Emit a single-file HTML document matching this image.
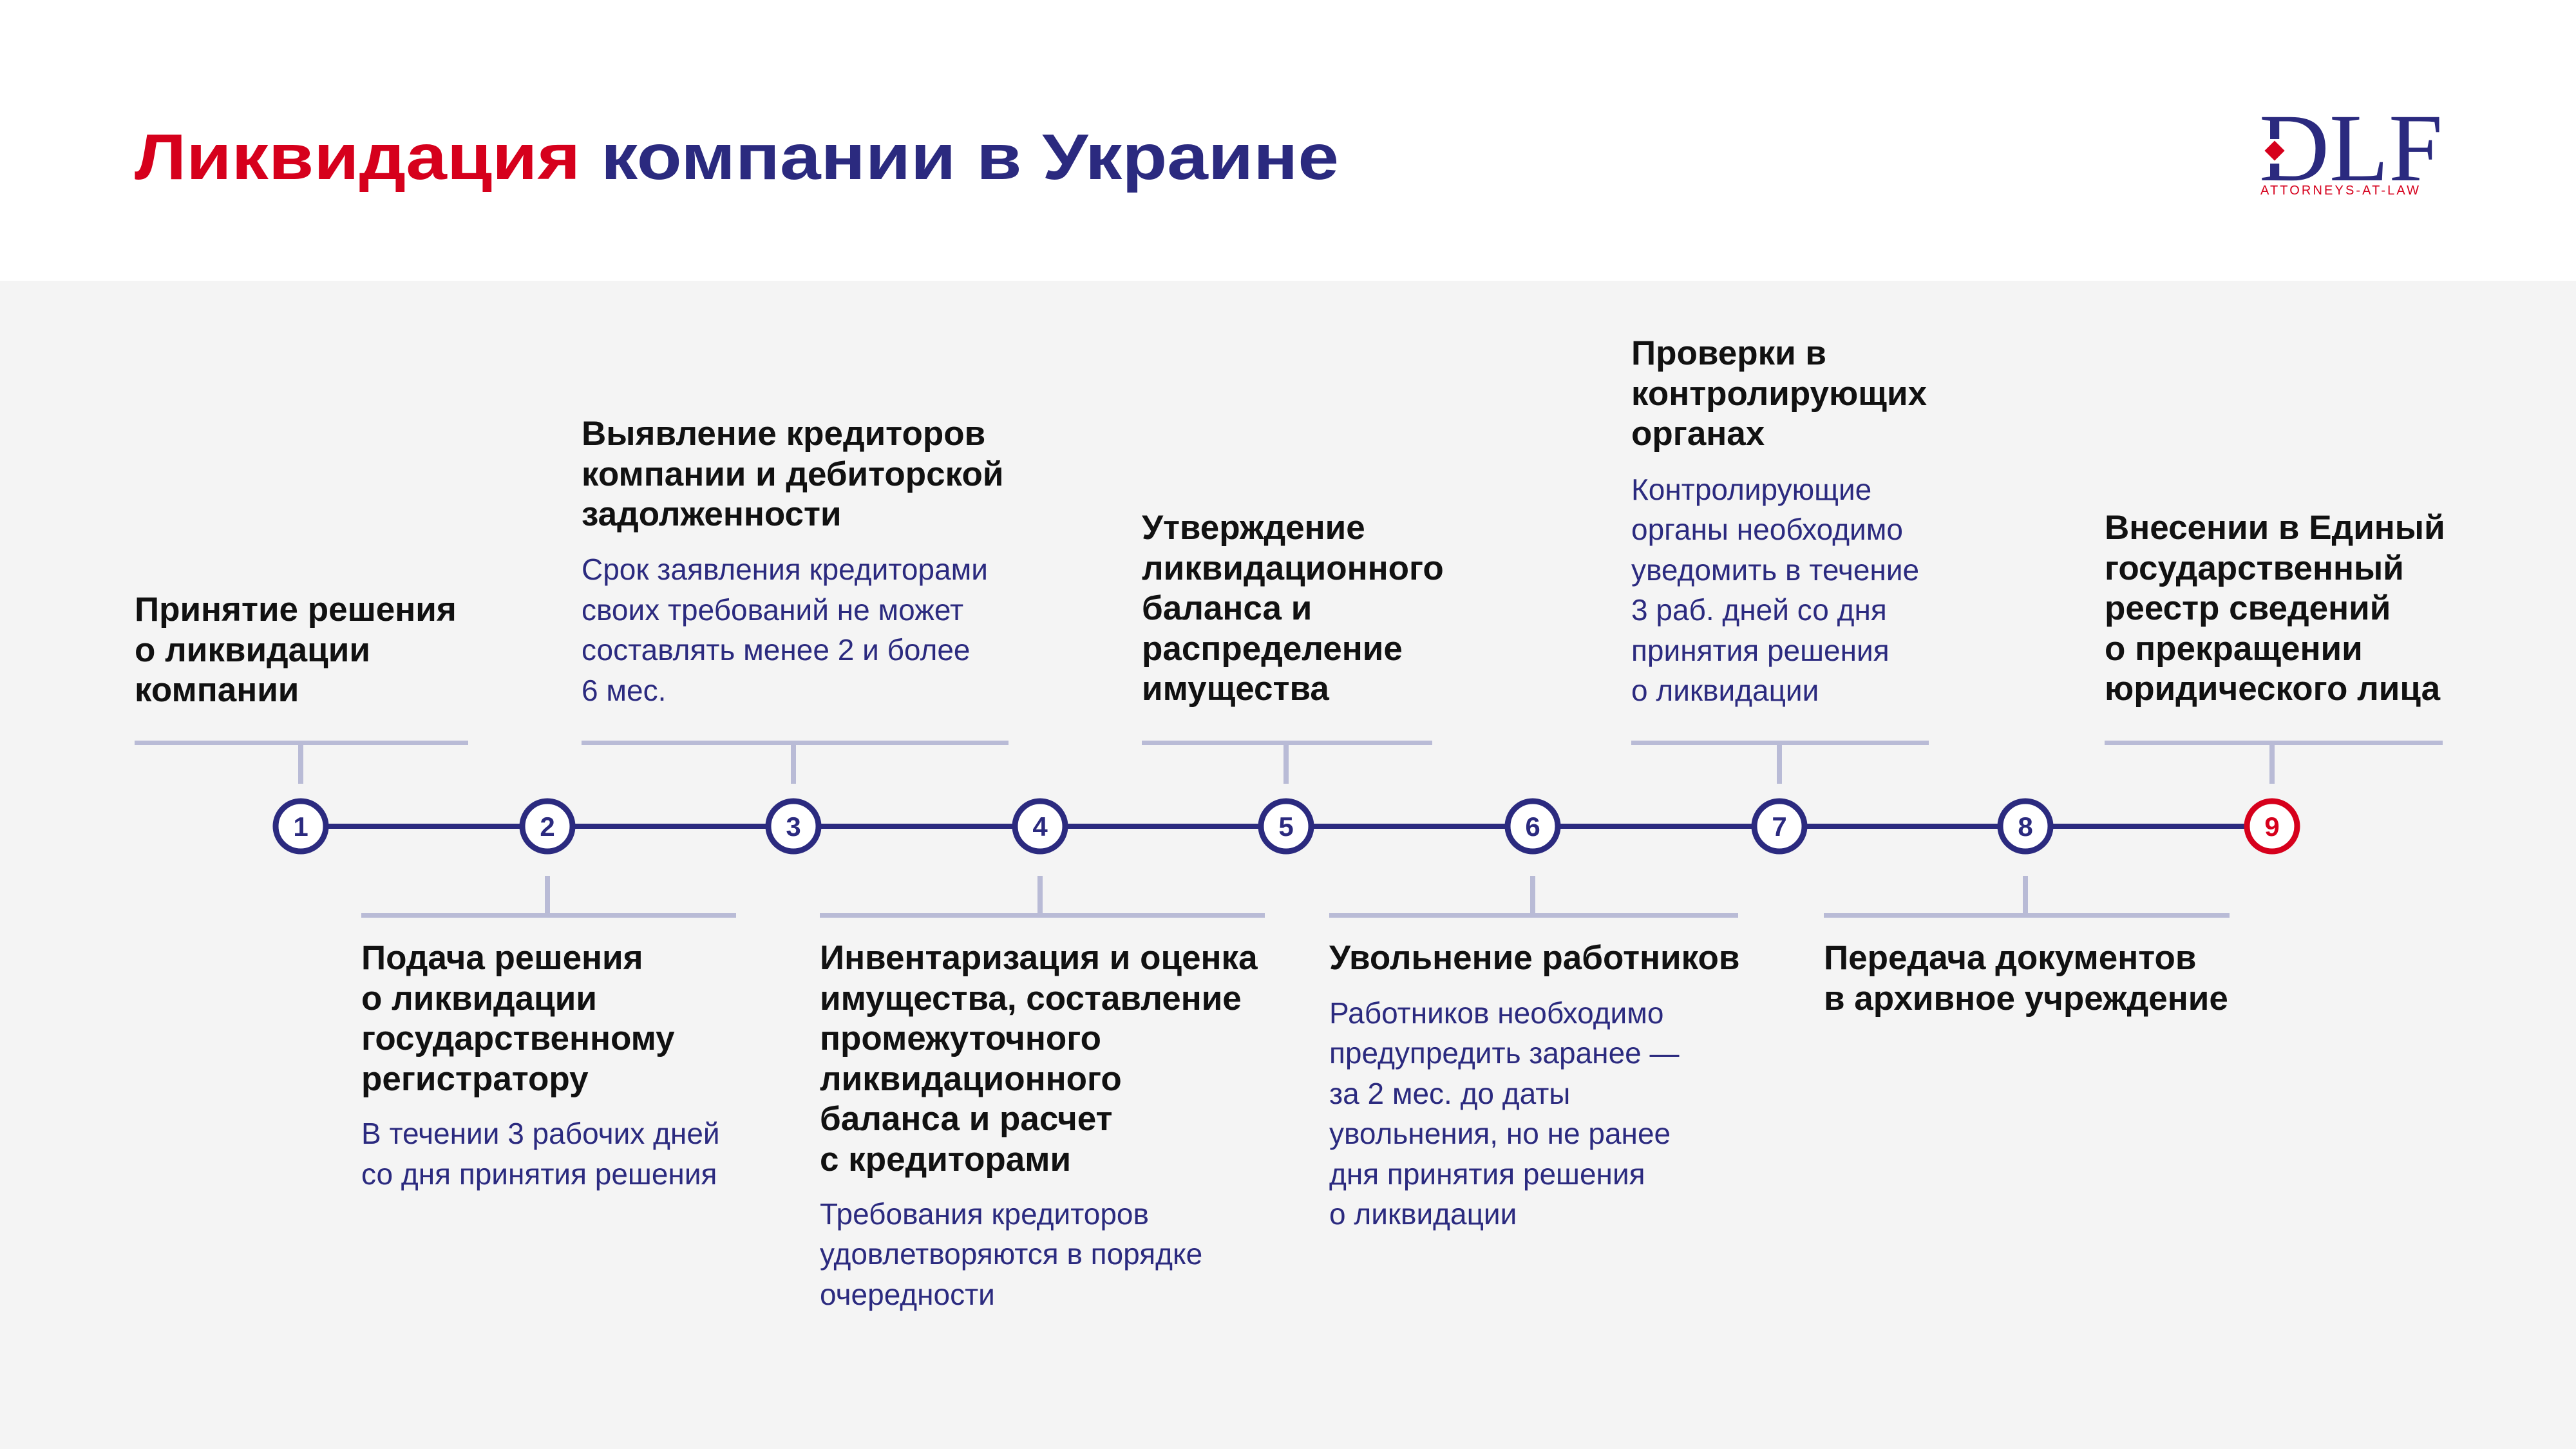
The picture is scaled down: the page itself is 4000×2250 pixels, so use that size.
<!DOCTYPE html>
<html><head><meta charset="utf-8"><style>
html,body{margin:0;padding:0;background:#f4f4f4}
svg{display:block}
.h{font-family:"Liberation Sans",sans-serif;font-weight:bold;font-size:53px;fill:#111}
.d{font-family:"Liberation Sans",sans-serif;font-size:46px;fill:#2b2a7f}
.n{font-family:"Liberation Sans",sans-serif;font-weight:bold;font-size:42px;fill:#2b2a7f}
</style></head><body>
<svg width="4000" height="2250" viewBox="0 0 4000 2250" xmlns="http://www.w3.org/2000/svg">
<rect x="0" y="0" width="4000" height="436" fill="#ffffff"/>
<rect x="0" y="436" width="4000" height="1814" fill="#f4f4f4"/>
<text x="209" y="278" font-family="Liberation Sans, sans-serif" font-weight="bold" font-size="100" textLength="1870" lengthAdjust="spacingAndGlyphs"><tspan fill="#d6001c">Ликвидация</tspan><tspan fill="#2b2a7f"> компании в Украине</tspan></text>
<!-- logo -->
<text x="3508" y="280" font-family="Liberation Serif, serif" font-size="150" fill="#2b2a7f" textLength="285" lengthAdjust="spacingAndGlyphs">DLF</text>
<rect x="3520" y="216" width="30" height="38" fill="#ffffff"/>
<rect x="3521" y="223" width="22" height="22" fill="#d6001c" transform="rotate(45 3532 234)"/>
<text x="3510" y="302" font-family="Liberation Sans, sans-serif" font-size="20" fill="#d6001c" textLength="246" lengthAdjust="spacing">ATTORNEYS-AT-LAW</text>

<!-- timeline -->
<line x1="467" y1="1283" x2="3528" y2="1283" stroke="#2b2a7f" stroke-width="8"/>
<g fill="#b9bbd6">
<rect x="209" y="1150" width="518" height="7"/><rect x="463" y="1150" width="8" height="67"/>
<rect x="903" y="1150" width="663" height="7"/><rect x="1228" y="1150" width="8" height="67"/>
<rect x="1773" y="1150" width="451" height="7"/><rect x="1993" y="1150" width="8" height="67"/>
<rect x="2533" y="1150" width="462" height="7"/><rect x="2759" y="1150" width="8" height="67"/>
<rect x="3268" y="1150" width="525" height="7"/><rect x="3524" y="1150" width="8" height="67"/>
<rect x="561" y="1418" width="582" height="7"/><rect x="846" y="1360" width="8" height="62"/>
<rect x="1273" y="1418" width="691" height="7"/><rect x="1611" y="1360" width="8" height="62"/>
<rect x="2064" y="1418" width="635" height="7"/><rect x="2376" y="1360" width="8" height="62"/>
<rect x="2832" y="1418" width="630" height="7"/><rect x="3141" y="1360" width="8" height="62"/>
</g>
<g fill="#ffffff" stroke="#2b2a7f" stroke-width="9">
<circle cx="467" cy="1283" r="39"/><circle cx="850" cy="1283" r="39"/><circle cx="1232" cy="1283" r="39"/>
<circle cx="1615" cy="1283" r="39"/><circle cx="1997" cy="1283" r="39"/><circle cx="2380" cy="1283" r="39"/>
<circle cx="2763" cy="1283" r="39"/><circle cx="3145" cy="1283" r="39"/>
<circle cx="3528" cy="1283" r="39" stroke="#d6001c"/>
</g>
<g text-anchor="middle">
<text class="n" x="467" y="1298">1</text><text class="n" x="850" y="1298">2</text><text class="n" x="1232" y="1298">3</text>
<text class="n" x="1615" y="1298">4</text><text class="n" x="1997" y="1298">5</text><text class="n" x="2380" y="1298">6</text>
<text class="n" x="2763" y="1298">7</text><text class="n" x="3145" y="1298">8</text>
<text class="n" x="3528" y="1298" style="fill:#d6001c">9</text>
</g>

<!-- 1 -->
<text class="h" x="209" y="964">Принятие решения</text>
<text class="h" x="209" y="1027">о ликвидации</text>
<text class="h" x="209" y="1089">компании</text>
<!-- 2 -->
<text class="h" x="561" y="1505">Подача решения</text>
<text class="h" x="561" y="1568">о ликвидации</text>
<text class="h" x="561" y="1630">государственному</text>
<text class="h" x="561" y="1693">регистратору</text>
<text class="d" x="561" y="1776">В течении 3 рабочих дней</text>
<text class="d" x="561" y="1839">со дня принятия решения</text>
<!-- 3 -->
<text class="h" x="903" y="691">Выявление кредиторов</text>
<text class="h" x="903" y="754">компании и дебиторской</text>
<text class="h" x="903" y="816">задолженности</text>
<text class="d" x="903" y="900">Срок заявления кредиторами</text>
<text class="d" x="903" y="963">своих требований не может</text>
<text class="d" x="903" y="1025">составлять менее 2 и более</text>
<text class="d" x="903" y="1088">6 мес.</text>
<!-- 4 -->
<text class="h" x="1273" y="1505">Инвентаризация и оценка</text>
<text class="h" x="1273" y="1568">имущества, составление</text>
<text class="h" x="1273" y="1630">промежуточного</text>
<text class="h" x="1273" y="1693">ликвидационного</text>
<text class="h" x="1273" y="1755">баланса и расчет</text>
<text class="h" x="1273" y="1818">с кредиторами</text>
<text class="d" x="1273" y="1901">Требования кредиторов</text>
<text class="d" x="1273" y="1963">удовлетворяются в порядке</text>
<text class="d" x="1273" y="2026">очередности</text>
<!-- 5 -->
<text class="h" x="1773" y="837">Утверждение</text>
<text class="h" x="1773" y="900">ликвидационного</text>
<text class="h" x="1773" y="962">баланса и</text>
<text class="h" x="1773" y="1025">распределение</text>
<text class="h" x="1773" y="1087">имущества</text>
<!-- 6 -->
<text class="h" x="2064" y="1505">Увольнение работников</text>
<text class="d" x="2064" y="1589">Работников необходимо</text>
<text class="d" x="2064" y="1651">предупредить заранее —</text>
<text class="d" x="2064" y="1714">за 2 мес. до даты</text>
<text class="d" x="2064" y="1776">увольнения, но не ранее</text>
<text class="d" x="2064" y="1839">дня принятия решения</text>
<text class="d" x="2064" y="1901">о ликвидации</text>
<!-- 7 -->
<text class="h" x="2533" y="566">Проверки в</text>
<text class="h" x="2533" y="629">контролирующих</text>
<text class="h" x="2533" y="691">органах</text>
<text class="d" x="2533" y="776">Контролирующие</text>
<text class="d" x="2533" y="838">органы необходимо</text>
<text class="d" x="2533" y="901">уведомить в течение</text>
<text class="d" x="2533" y="963">3 раб. дней со дня</text>
<text class="d" x="2533" y="1026">принятия решения</text>
<text class="d" x="2533" y="1088">о ликвидации</text>
<!-- 8 -->
<text class="h" x="2832" y="1505">Передача документов</text>
<text class="h" x="2832" y="1568">в архивное учреждение</text>
<!-- 9 -->
<text class="h" x="3268" y="837">Внесении в Единый</text>
<text class="h" x="3268" y="900">государственный</text>
<text class="h" x="3268" y="962">реестр сведений</text>
<text class="h" x="3268" y="1025">о прекращении</text>
<text class="h" x="3268" y="1087">юридического лица</text>
</svg>
</body></html>
